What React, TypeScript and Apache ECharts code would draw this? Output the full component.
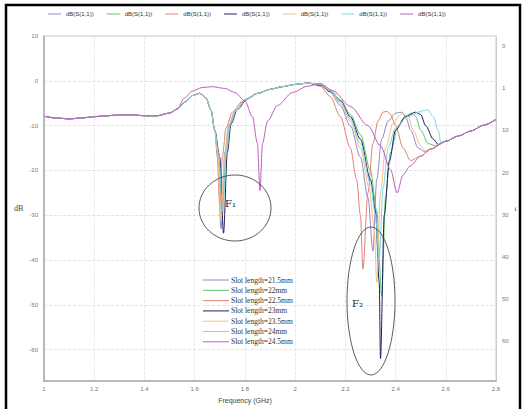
import React, { useEffect, useRef } from 'react';
import * as echarts from 'echarts';

type P = [number, number];

const slotLabels = [
  'Slot length=21.5mm',
  'Slot length=22mm',
  'Slot length=22.5mm',
  'Slot length=23mm',
  'Slot length=23.5mm',
  'Slot length=24mm',
  'Slot length=24.5mm',
];
const seriesColors = ['#9a86c6', '#5cc46a', '#e08272', '#1e1e62', '#f0c27e', '#7fd6e6', '#c05cc4'];
const topLegendText = 'dB(S(1,1))';

const yLabelValues = [10, 0, -10, -20, -30, -40, -50, -60];
const rightLabels = ['0', '1', '10', '20', '30', '40', '50', '60'];
const rightLabelIdx = [0, 1, 2, 3, 4, 5, 6, 7];

// shared low-frequency part (all curves overlap)
const baseStart: P[] = [
  [1.0, -7.9], [1.05, -8.3], [1.1, -8.5], [1.15, -8.3], [1.2, -8.0], [1.25, -7.8],
  [1.3, -7.6], [1.35, -7.6], [1.4, -7.8], [1.45, -7.8], [1.5, -7.2], [1.53, -6.3],
];
const mainShoulder: P[] = [[1.56, -4.8], [1.59, -3.3], [1.62, -2.8], [1.645, -3.8], [1.665, -6.5], [1.68, -11]];
const midPlateau: P[] = [[1.85, -2.8], [1.9, -1.9], [1.95, -1.3], [2.0, -0.8], [2.05, -0.5]];
const tail: P[] = [[2.5, -16.8], [2.54, -15.2], [2.6, -13.5], [2.65, -12.3], [2.7, -11.2], [2.75, -9.9], [2.8, -8.6]];

// F1 resonance segments
const f1A: P[] = [[1.69, -15], [1.705, -33], [1.72, -16], [1.735, -10], [1.76, -6.8], [1.8, -4.2]];
const f1B: P[] = [[1.695, -16], [1.71, -30], [1.725, -16], [1.74, -9.8], [1.765, -6.6], [1.8, -4.4]];
const f1C: P[] = [[1.69, -17], [1.7, -28], [1.71, -17], [1.725, -10.5], [1.75, -7], [1.79, -4.6]];
const f1D: P[] = [[1.7, -17], [1.715, -34], [1.73, -16], [1.745, -9.6], [1.77, -6.4], [1.81, -4]];
const f1E: P[] = [[1.69, -15.5], [1.705, -31], [1.72, -16.5], [1.735, -10.2], [1.76, -6.9], [1.8, -4.3]];
const f1F: P[] = [[1.695, -16], [1.712, -29], [1.727, -15.5], [1.742, -9.5], [1.767, -6.5], [1.805, -4.1]];
const gLow: P[] = [
  [1.56, -3.8], [1.59, -2.3], [1.63, -1.5], [1.67, -1.3], [1.72, -1.7], [1.76, -2.6], [1.8, -4.5],
  [1.83, -8], [1.85, -14], [1.86, -24.5], [1.87, -14], [1.89, -9], [1.93, -5.5], [1.99, -2.6], [2.05, -1.2],
];

// F2 resonance segments
const f2A: P[] = [
  [2.1, -0.8], [2.14, -2.5], [2.18, -5.5], [2.22, -10], [2.26, -17], [2.29, -26], [2.31, -38],
  [2.325, -22], [2.345, -13], [2.37, -9], [2.4, -7.2], [2.425, -7], [2.44, -8], [2.46, -11], [2.49, -15], [2.52, -15.9],
];
const f2B: P[] = [
  [2.1, -0.7], [2.14, -2], [2.18, -4.2], [2.22, -7.5], [2.26, -12], [2.3, -20], [2.325, -29], [2.345, -48],
  [2.36, -26], [2.38, -16], [2.41, -10], [2.44, -7.8], [2.465, -7.2], [2.48, -8], [2.5, -11], [2.53, -14], [2.56, -14.5],
];
const f2C: P[] = [
  [2.06, -0.6], [2.1, -1.2], [2.14, -3.5], [2.18, -8], [2.22, -15], [2.245, -22], [2.26, -30], [2.27, -42],
  [2.29, -25], [2.31, -14], [2.33, -9], [2.35, -7], [2.366, -6.8], [2.38, -7.5], [2.4, -10], [2.43, -15], [2.46, -17.8],
];
const f2D: P[] = [
  [2.1, -1], [2.14, -2.4], [2.18, -4.5], [2.22, -8], [2.26, -13], [2.3, -22], [2.32, -29], [2.335, -45], [2.34, -62],
  [2.355, -30], [2.375, -18], [2.4, -11], [2.44, -8], [2.48, -7], [2.5, -7.5], [2.52, -10], [2.55, -13], [2.57, -14.2],
];
const f2E: P[] = [
  [2.1, -0.8], [2.14, -2.2], [2.18, -5], [2.22, -9], [2.26, -15], [2.295, -24], [2.315, -33], [2.325, -45],
  [2.34, -25], [2.36, -15], [2.39, -9.5], [2.42, -7.5], [2.43, -7.2], [2.45, -8], [2.47, -11], [2.5, -14.5], [2.52, -15.6],
];
const f2F: P[] = [
  [2.1, -0.8], [2.14, -2.2], [2.18, -4.6], [2.22, -8.5], [2.26, -14], [2.3, -23], [2.32, -30], [2.335, -40],
  [2.35, -24], [2.37, -15], [2.4, -10.5], [2.45, -8], [2.5, -6.8], [2.53, -6.5], [2.55, -8], [2.57, -11], [2.58, -13.8],
];
const f2G: P[] = [
  [2.1, -0.6], [2.15, -2.2], [2.22, -5.7], [2.29, -10], [2.34, -14.5], [2.38, -19.8], [2.406, -25],
  [2.43, -21], [2.458, -19],
];

function build(parts: P[][]): P[] {
  const out: P[] = [];
  parts.forEach((p) => out.push(...p));
  const last = out[out.length - 1][0];
  tail.forEach((t) => { if (t[0] > last + 1e-9) out.push(t); });
  return out;
}

const curves: P[][] = [
  build([baseStart, mainShoulder, f1A, midPlateau, f2A]),
  build([baseStart, mainShoulder, f1B, midPlateau, f2B]),
  build([baseStart, mainShoulder, f1C, midPlateau, f2C]),
  build([baseStart, mainShoulder, f1D, midPlateau, f2D]),
  build([baseStart, mainShoulder, f1E, midPlateau, f2E]),
  build([baseStart, mainShoulder, f1F, midPlateau, f2F]),
  build([baseStart, gLow, f2G]),
];

export default function App() {
  const ref = useRef<HTMLDivElement>(null);
  useEffect(() => {
    if (!ref.current) return;
    const chart = echarts.init(ref.current, null, { renderer: 'svg' });
    const axisFont = { fontSize: 6, color: '#777', fontFamily: 'Liberation Sans' };
    chart.setOption({
      animation: false,
      backgroundColor: '#fff',
      grid: { left: 44, top: 36, right: 26, bottom: 24, show: true, borderColor: '#cfcfcf', borderWidth: 1 },
      legend: [
        {
          top: 6, left: 43, itemWidth: 13, itemHeight: 1, itemGap: 13, icon: 'rect',
          data: slotLabels,
          formatter: () => topLegendText,
          textStyle: { fontSize: 6, color: '#333', fontFamily: 'Liberation Sans' },
        },
        {
          orient: 'vertical', left: 198, top: 270, itemWidth: 26, itemHeight: 1, itemGap: 0.3, icon: 'rect',
          data: slotLabels,
          textStyle: { fontSize: 7.5, lineHeight: 10, color: '#333', fontFamily: 'Liberation Serif', padding: [0, 0, 0, -3] },
        },
      ],
      xAxis: {
        type: 'value', min: 1, max: 2.8, interval: 0.2,
        name: 'Frequency (GHz)', nameLocation: 'middle', nameGap: 12,
        nameTextStyle: { fontSize: 7, color: '#444', fontFamily: 'Liberation Sans', padding: [0, 50, 0, 0] },
        axisLine: { onZero: false, lineStyle: { color: '#aaa', width: 1.5 } },
        axisTick: { show: false },
        axisLabel: { ...axisFont, margin: 5, formatter: (v: number) => String(Math.round(v * 10) / 10) },
        splitLine: { show: true, lineStyle: { color: '#e2e2e2', type: 'dashed', width: 0.8 } },
      },
      yAxis: [
        {
          type: 'value', min: -67, max: 10, position: 'left',
          name: 'dB', nameLocation: 'middle', nameRotate: 0, nameGap: 10,
          nameTextStyle: { fontSize: 8, color: '#444', fontFamily: 'Liberation Serif', padding: [0, 0, 12, 0] },
          axisLine: { show: true, onZero: false, lineStyle: { color: '#aaa', width: 1.5 } },
          axisTick: { show: false, customValues: yLabelValues },
          axisLabel: { ...axisFont, margin: 6, customValues: yLabelValues },
          splitLine: { show: true, lineStyle: { color: '#dcdcdc', type: 'dashed', width: 0.8 } },
        },
        {
          type: 'value', min: -0.234, max: 7.94, inverse: true, position: 'right',
          name: 'i', nameLocation: 'middle', nameRotate: 0, nameGap: 13,
          nameTextStyle: { fontSize: 7, color: '#444', fontFamily: 'Liberation Serif' },
          axisLine: { show: true, onZero: false, lineStyle: { color: '#ccc', width: 1 } },
          axisTick: { show: false, customValues: rightLabelIdx },
          axisLabel: { ...axisFont, margin: 6, customValues: rightLabelIdx, formatter: (v: number) => rightLabels[Math.round(v)] ?? '' },
          splitLine: { show: false },
        },
      ],
      series: curves.map((d, i) => ({
        name: slotLabels[i],
        type: 'line',
        data: d,
        yAxisIndex: 0,
        smooth: 0.3,
        smoothMonotone: 'x',
        showSymbol: false,
        lineStyle: { color: seriesColors[i], width: 1 },
        itemStyle: { color: seriesColors[i] },
      })),
      graphic: [
        { type: 'rect', shape: { x: 6, y: 5, width: 514, height: 412 }, style: { fill: 'none', stroke: '#000', lineWidth: 2.5 }, silent: true },
        { type: 'ellipse', shape: { cx: 235, cy: 208, rx: 36, ry: 33 }, style: { fill: 'none', stroke: '#333', lineWidth: 0.8 }, z: 10 },
        { type: 'text', x: 225, y: 198, style: { text: 'F₁', fontSize: 10, fontFamily: 'DejaVu Serif', fill: '#222' }, z: 10 },
        { type: 'ellipse', shape: { cx: 371, cy: 301, rx: 24, ry: 74 }, style: { fill: 'none', stroke: '#333', lineWidth: 0.8 }, z: 10 },
        { type: 'text', x: 352, y: 298, style: { text: 'F₂', fontSize: 10, fontFamily: 'DejaVu Serif', fill: '#222' }, z: 10 },
      ],
    });
    return () => chart.dispose();
  }, []);
  return <div ref={ref} style={{ position: 'fixed', left: 0, top: 0, width: 522, height: 409 }} />;
}
